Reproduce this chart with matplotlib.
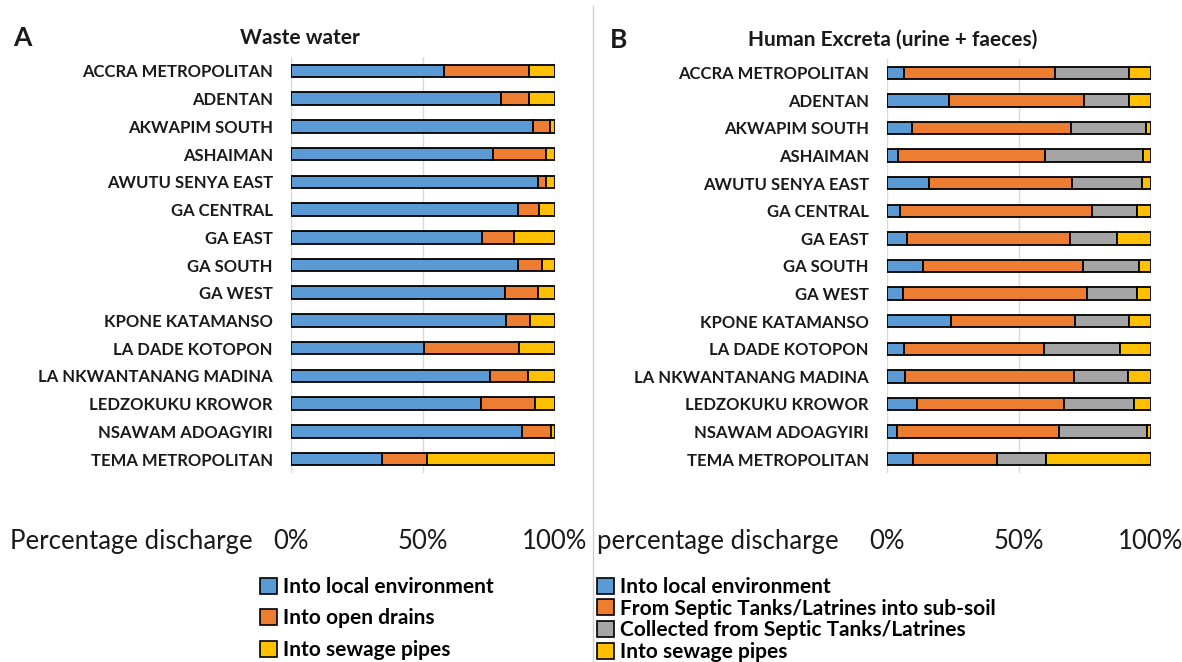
import numpy as np
import matplotlib.pyplot as plt
from matplotlib.patches import Patch

plt.rcParams['font.family'] = ['Lato', 'DejaVu Sans']

districts = ["ACCRA METROPOLITAN", "ADENTAN", "AKWAPIM SOUTH", "ASHAIMAN",
             "AWUTU SENYA EAST", "GA CENTRAL", "GA EAST", "GA SOUTH", "GA WEST",
             "KPONE KATAMANSO", "LA DADE KOTOPON", "LA NKWANTANANG MADINA",
             "LEDZOKUKU KROWOR", "NSAWAM ADOAGYIRI", "TEMA METROPOLITAN"]

# Panel A: waste water (%)
ww_local = [58.1, 79.6, 91.7, 76.4, 93.6, 86.0, 72.4, 86.0, 81.0, 81.3, 50.3, 75.3, 72.1, 87.4, 34.6]
ww_drains = [32.2, 10.7, 6.4, 20.3, 3.1, 8.1, 12.2, 8.9, 12.6, 9.3, 36.1, 14.3, 20.3, 11.0, 16.8]
ww_pipes = [9.7, 9.7, 1.9, 3.3, 3.3, 5.9, 15.4, 5.1, 6.4, 9.4, 13.6, 10.4, 7.6, 1.6, 48.6]

# Panel B: human excreta (%)
he_local = [6.6, 23.4, 9.3, 4.0, 15.8, 5.0, 7.6, 13.8, 6.2, 24.4, 6.4, 6.9, 11.5, 3.6, 10.0]
he_subsoil = [56.9, 51.2, 60.3, 55.9, 54.1, 72.5, 61.6, 60.4, 69.4, 46.9, 53.2, 64.0, 55.6, 61.7, 31.5]
he_collected = [28.2, 17.1, 28.5, 36.9, 26.8, 17.2, 17.9, 21.1, 19.0, 20.5, 28.7, 20.2, 26.5, 33.3, 18.7]
he_pipes = [8.3, 8.3, 1.9, 3.2, 3.3, 5.3, 12.9, 4.7, 5.4, 8.2, 11.7, 8.9, 6.4, 1.4, 39.8]

ww_labels = ["Into local environment", "Into open drains", "Into sewage pipes"]
he_labels = ["Into local environment", "From Septic Tanks/Latrines into sub-soil",
             "Collected from Septic Tanks/Latrines", "Into sewage pipes"]

blue, orange, grey, yellow = "#5B9BD5", "#ED7D31", "#A5A5A5", "#FFC000"
txt = "#1a1a1a"

W, H = 1182, 662
fig = plt.figure(figsize=(W / 100, H / 100), dpi=100)


def px_axes(x0, x1, y0, y1):
    return fig.add_axes([x0 / W, 1 - y1 / H, (x1 - x0) / W, (y1 - y0) / H])


def stacked(ax, series, colors):
    y = np.arange(len(districts))
    left = np.zeros(len(districts))
    for vals, c in zip(series, colors):
        ax.barh(y, vals, left=left, height=0.45, color=c, edgecolor="black", linewidth=1.3, zorder=3)
        left += np.array(vals)
    ax.set_ylim(len(districts) - 0.5, -0.5)
    ax.set_xlim(0, 100)
    ax.set_yticks(y)
    ax.set_yticklabels(districts, fontsize=12, fontweight="bold", color=txt)
    ax.set_xticks([0, 50, 100])
    ax.set_xticklabels(["0%", "50%", "100%"], fontsize=18.5, color=txt)
    ax.tick_params(axis="both", length=0)
    ax.tick_params(axis="y", pad=13)
    ax.tick_params(axis="x", pad=40)
    ax.grid(axis="x", color="#D9D9D9", linewidth=1, zorder=0)
    for s in ax.spines.values():
        s.set_visible(False)


axA = px_axes(291, 555, 57, 473)
stacked(axA, [ww_local, ww_drains, ww_pipes], [blue, orange, yellow])

axB = px_axes(887, 1151, 59, 473)
stacked(axB, [he_local, he_subsoil, he_collected, he_pipes], [blue, orange, grey, yellow])

fig.text(13 / W, 1 - 38 / H, "A", fontsize=19, fontweight="bold", va="center", color=txt)
fig.text(300 / W, 1 - 38 / H, "Waste water", fontsize=15, fontweight="bold", ha="center",
         va="center", color=txt)
fig.text(610 / W, 1 - 40 / H, "B", fontsize=19, fontweight="bold", va="center", color=txt)
fig.text(893 / W, 1 - 40 / H, "Human Excreta (urine + faeces)", fontsize=15, fontweight="bold",
         ha="center", va="center", color=txt)

fig.text(10 / W, 1 - 541 / H, "Percentage discharge", fontsize=18.5, va="center", color=txt)
fig.text(597 / W, 1 - 541 / H, "percentage discharge", fontsize=18.5, va="center", color=txt)

# separator line between panels
fig.add_artist(plt.Line2D([593 / W, 593 / W], [0, 1 - 6 / H], color="#D0D0D0", linewidth=1))

handlesA = [Patch(facecolor=c, edgecolor="black", linewidth=1.2) for c in [blue, orange, yellow]]
fig.legend(handlesA, ww_labels, loc="upper left", bbox_to_anchor=(260 / W, 1 - 577 / H),
           frameon=False, handlelength=0.8, handleheight=0.8, handletextpad=0.3,
           labelspacing=0.55, borderaxespad=0, borderpad=0,
           prop={"size": 15, "weight": "bold"})

handlesB = [Patch(facecolor=c, edgecolor="black", linewidth=1.2) for c in [blue, orange, grey, yellow]]
fig.legend(handlesB, he_labels, loc="upper left", bbox_to_anchor=(597 / W, 1 - 577 / H),
           frameon=False, handlelength=0.8, handleheight=0.8, handletextpad=0.3,
           labelspacing=0.08, borderaxespad=0, borderpad=0,
           prop={"size": 15, "weight": "bold"})

fig.savefig("out.png", dpi=100)
